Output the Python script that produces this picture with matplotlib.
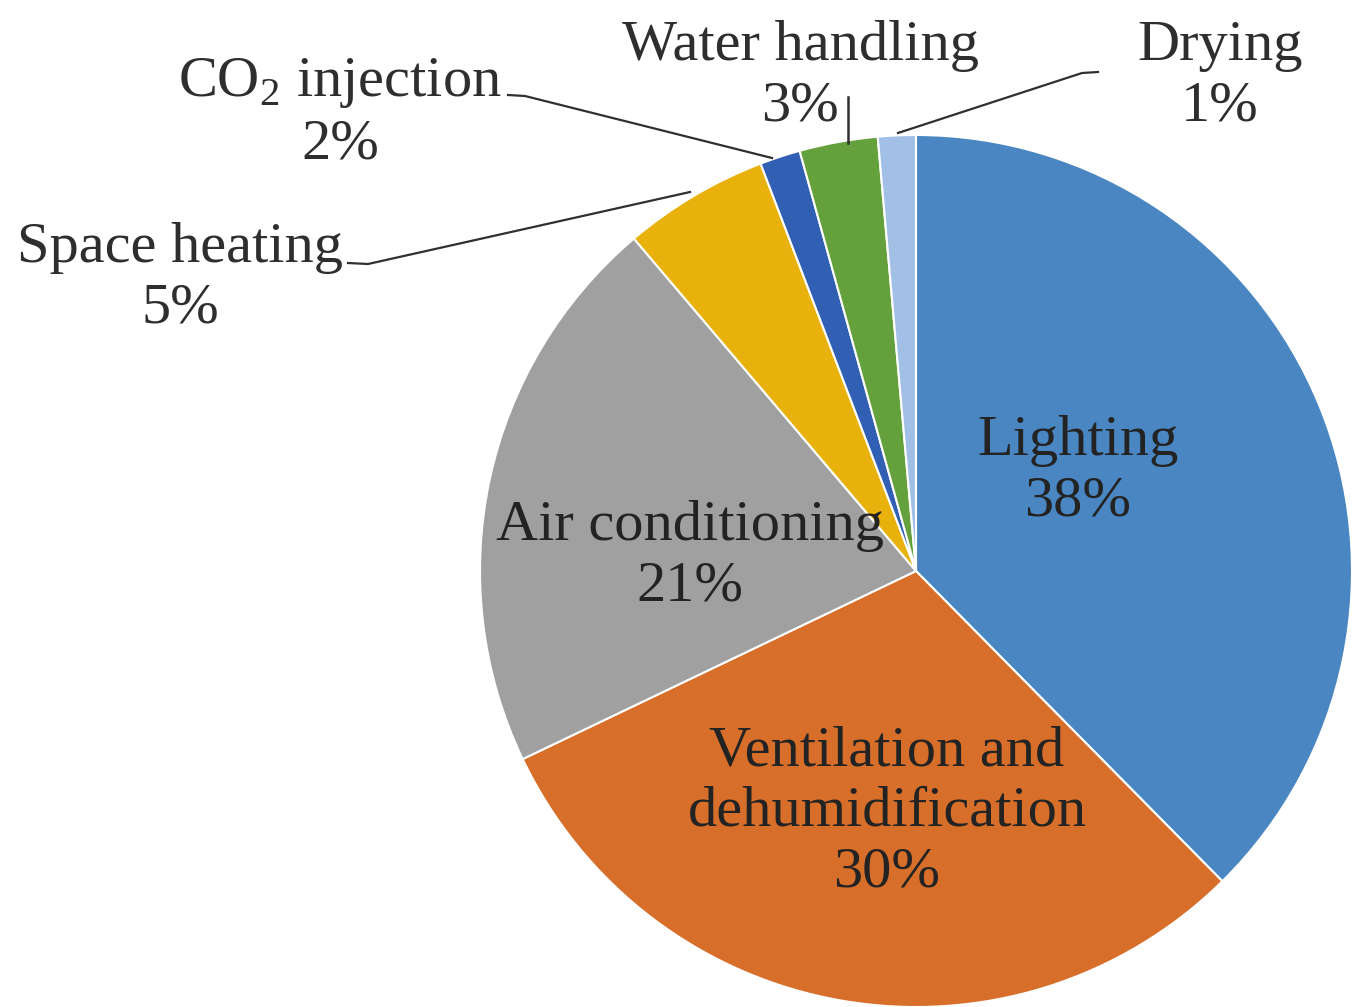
import matplotlib
matplotlib.use("Agg")
import matplotlib.pyplot as plt

plt.rcParams['font.family'] = ['Liberation Serif', 'DejaVu Serif']
plt.rcParams['mathtext.fontset'] = 'custom'
plt.rcParams['mathtext.rm'] = 'Liberation Serif'

# data (shares in %)
categories = ['Lighting', 'Ventilation and\ndehumidification', 'Air conditioning',
              'Space heating', r'CO$_\mathrm{2}$ injection', 'Water handling', 'Drying']
shares = [37.6, 30.3, 20.9, 5.4, 1.5, 2.9, 1.4]
colors = ['#4a86c1', '#d76e2a', '#a0a0a0', '#e9b10c', '#315fb4', '#64a03c', '#a2c0e6']

W, H = 1356, 1007
fig = plt.figure(figsize=(W / 100, H / 100), dpi=100)
ax = fig.add_axes([0, 0, 1, 1])

def py(y):
    # pixel row (from top) -> data y
    return H - y

cx, cy, r = 916, py(571), 436
ax.pie(shares, colors=colors, startangle=90, counterclock=False,
       center=(cx, cy), radius=r, frame=True,
       wedgeprops=dict(edgecolor='white', linewidth=1.5))

labels = [f"{c}\n{round(v)}%" for c, v in zip(categories, shares)]
fs = 42
ls = 1.22
inner_color = '#232323'
outer_color = '#2e2e2e'

# labels inside the pie
ax.text(1078, py(471), labels[0], ha='center', va='center', fontsize=fs,
        color=inner_color, linespacing=ls)
ax.text(887, py(812), labels[1], ha='center', va='center', fontsize=fs,
        color=inner_color, linespacing=ls)
ax.text(690, py(556), labels[2], ha='center', va='center', fontsize=fs,
        color=inner_color, linespacing=ls)

# outside labels with leader lines
ax.text(180, py(278), labels[3], ha='center', va='center', fontsize=fs,
        color=outer_color, linespacing=ls)
ax.text(340, py(113), labels[4], ha='center', va='center', fontsize=fs,
        color=outer_color, linespacing=ls)
ax.text(800, py(76), labels[5], ha='center', va='center', fontsize=fs,
        color=outer_color, linespacing=ls)
ax.text(1220, py(76), labels[6], ha='center', va='center', fontsize=fs,
        color=outer_color, linespacing=ls)

lc = '#303030'
ax.plot([348, 368, 690], [py(263), py(264), py(192)], color=lc, lw=1.6)
ax.plot([508, 525, 772], [py(95), py(96), py(158)], color=lc, lw=1.6)
ax.plot([848, 848], [py(97), py(143)], color=lc, lw=1.8)
ax.plot([1098, 1082, 898], [py(72), py(73), py(133)], color=lc, lw=1.6)

ax.set_xlim(0, W)
ax.set_ylim(0, H)
ax.set_aspect('equal')
ax.axis('off')

fig.savefig('out.png', dpi=100, facecolor='white')
